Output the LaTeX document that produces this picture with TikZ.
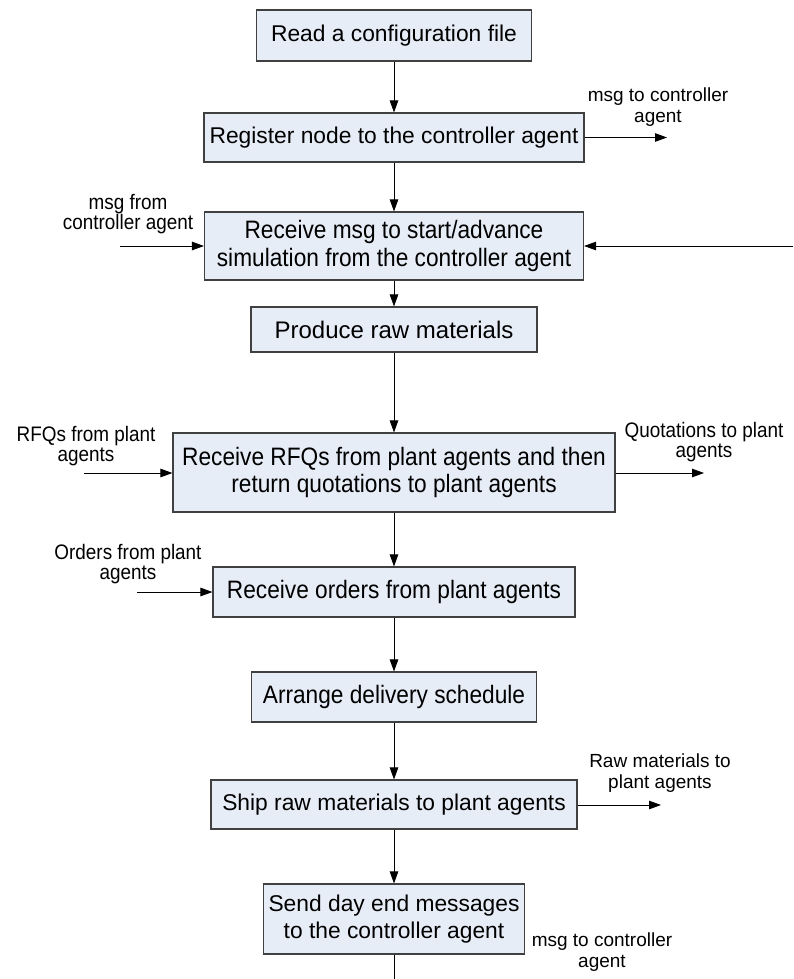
\documentclass[tikz,border=0pt]{standalone}
\usepackage{fontspec}
\setmainfont{Liberation Sans}
\newfontfamily\tallsans[FakeStretch=0.9]{Liberation Sans}
\usetikzlibrary{arrows.meta}
\definecolor{boxfill}{HTML}{E7EDF7}
\definecolor{boxline}{HTML}{404040}
\begin{document}
\begin{tikzpicture}[x=1pt,y=-1pt,
  stepbox/.style={draw=boxline, line width=1.1pt, fill=boxfill, align=center,
    inner sep=0pt, font=\fontsize{22.8}{27}\selectfont},
  tallbox/.style={stepbox, font=\tallsans\fontsize{25.2}{27.5}\selectfont},
  flow/.style={line width=0.9pt, -{Triangle[length=12pt,width=8.5pt]}},
  plain/.style={line width=0.9pt},
  note/.style={align=center, inner sep=0pt, font=\fontsize{19}{20.5}\selectfont},
  tallnote/.style={note, font=\tallsans\fontsize{21}{20.5}\selectfont}]
\useasboundingbox[fill=white] (0,0) rectangle (793,979);

% main sequence of steps
\node[stepbox, minimum width=275pt, minimum height=51pt] (b1) at (394,35.5) {Read a configuration file};
\node[stepbox, minimum width=380pt, minimum height=49pt] (b2) at (394,137.5) {Register node to the controller agent};
\node[tallbox, minimum width=379pt, minimum height=68pt] (b3) at (394,246) {Receive msg to start/advance\\simulation from the controller agent};
\node[stepbox, minimum width=286pt, minimum height=45pt, font=\fontsize{24}{27}\selectfont] (b4) at (394,329.5) {Produce raw materials};
\node[tallbox, minimum width=442pt, minimum height=79pt] (b5) at (394,472.5) {Receive RFQs from plant agents and then\\return quotations to plant agents};
\node[tallbox, minimum width=362pt, minimum height=50pt] (b6) at (394,592) {Receive orders from plant agents};
\node[tallbox, minimum width=285pt, minimum height=50pt] (b7) at (394,697) {Arrange delivery schedule};
\node[stepbox, minimum width=366pt, minimum height=49pt] (b8) at (394,804.5) {Ship raw materials to plant agents};
\node[stepbox, minimum width=261pt, minimum height=70pt] (b9) at (394,919) {Send day end messages\\to the controller agent};

\draw[flow] (b1) -- (b2);
\draw[flow] (b2) -- (b3);
\draw[flow] (b3) -- (b4);
\draw[flow] (b4) -- (b5);
\draw[flow] (b5) -- (b6);
\draw[flow] (b6) -- (b7);
\draw[flow] (b7) -- (b8);
\draw[flow] (b8) -- (b9);
\coordinate (bottom) at (394,979);
\draw[plain] (b9) -- (bottom);

% messages in and out
\node[note] (n2) at (658,107) {msg to controller\\agent};
\coordinate (o2) at (667,137.5);
\draw[flow] (b2.east) -- (o2);

\node[tallnote] (n3) at (128,214) {msg from\\controller agent};
\coordinate (i3) at (120,246);
\draw[flow] (i3) -- (b3.west);
\coordinate (r3) at (793,246);
\draw[flow] (r3) -- (b3.east);

\node[tallnote] (n5a) at (86,446) {RFQs from plant\\agents};
\coordinate (i5) at (84,473);
\draw[flow] (i5) -- (b5.west |- i5);
\node[tallnote] (n5b) at (704,442) {Quotations to plant\\agents};
\coordinate (o5) at (704,473);
\draw[flow] (b5.east |- o5) -- (o5);

\node[tallnote] (n6) at (128,564) {Orders from plant\\agents};
\coordinate (i6) at (137,592);
\draw[flow] (i6) -- (b6.west);

\node[note] (n8) at (660,773) {Raw materials to\\plant agents};
\coordinate (o8) at (661,805);
\draw[flow] (b8.east |- o8) -- (o8);

\node[note] (n9) at (602,952) {msg to controller\\agent};
\end{tikzpicture}
\end{document}
